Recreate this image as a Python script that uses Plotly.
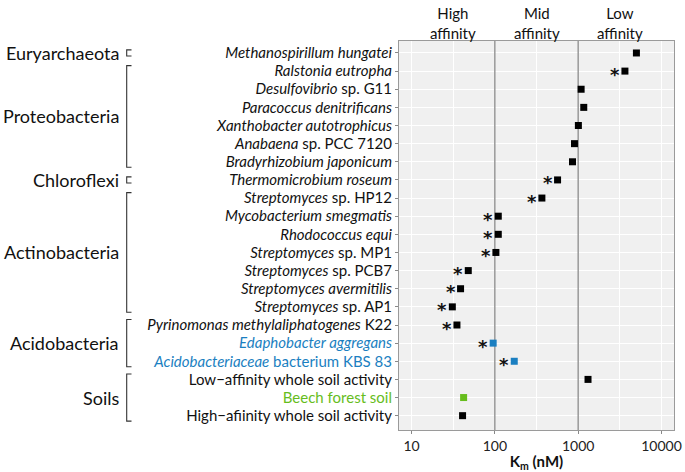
import math
import plotly.graph_objects as go

# ---------------- data ----------------
organisms = [
    "<i>Methanospirillum hungatei</i>",
    "<i>Ralstonia eutropha</i>",
    "<i>Desulfovibrio</i> sp. G11",
    "<i>Paracoccus denitrificans</i>",
    "<i>Xanthobacter autotrophicus</i>",
    "<i>Anabaena</i> sp. PCC 7120",
    "<i>Bradyrhizobium japonicum</i>",
    "<i>Thermomicrobium roseum</i>",
    "<i>Streptomyces</i> sp. HP12",
    "<i>Mycobacterium smegmatis</i>",
    "<i>Rhodococcus equi</i>",
    "<i>Streptomyces</i> sp. MP1",
    "<i>Streptomyces</i> sp. PCB7",
    "<i>Streptomyces avermitilis</i>",
    "<i>Streptomyces</i> sp. AP1",
    "<i>Pyrinomonas methylaliphatogenes</i> K22",
    "<i>Edaphobacter aggregans</i>",
    "<i>Acidobacteriaceae</i> bacterium KBS 83",
    "Low\u2212affinity whole soil activity",
    "Beech forest soil",
    "High\u2212afiinity whole soil activity",
]
km_nM = [5000, 3640, 1085, 1167, 1006, 903, 855, 566, 367, 110, 110, 103,
         48, 38.8, 30.9, 35.1, 95.5, 171, 1313, 42.2, 41]
starred = [False, True, False, False, False, False, False, True, True, True, True, True,
           True, True, True, True, True, True, False, False, False]
kind = ["ref"] * 16 + ["new", "new", "ref", "beech", "ref"]

groups = ["Euryarchaeota", "Proteobacteria", "Chloroflexi", "Actinobacteria",
          "Acidobacteria", "Soils"]
group_first = [0, 1, 7, 8, 15, 18]
group_last = [0, 6, 7, 14, 17, 20]

affinity_labels = ["High<br>affinity", "Mid<br>affinity", "Low<br>affinity"]
affinity_centers = [10 ** 1.5, 10 ** 2.5, 10 ** 3.5]
thresholds = [100, 1000]
x_ticks = [10, 100, 1000, 10000]
x_minor = [10 ** 1.5, 10 ** 2.5, 10 ** 3.5]

# ---------------- style ----------------
colors = {"ref": "#000000", "new": "#1b7fc1", "beech": "#66bd1c"}
FONT = "Lato"
W, H = 685, 472
ML, MR, MT, MB = 399, 11, 41, 42
Y_TOP, Y_BOT = -0.66, 20.79
rows = list(range(len(organisms)))

def tick_text(lbl, k):
    if k == "ref":
        return lbl
    return '<span style="color:%s">%s</span>' % (colors[k], lbl)

fig = go.Figure()

# threshold lines
for t in thresholds:
    fig.add_trace(go.Scatter(x=[t, t], y=[Y_TOP, Y_BOT], mode="lines",
                             line=dict(color="#8a8a8a", width=1.3),
                             hoverinfo="skip", showlegend=False))

for k in ["ref", "new", "beech"]:
    idx = [i for i in rows if kind[i] == k]
    fig.add_trace(go.Scatter(
        x=[km_nM[i] for i in idx], y=[rows[i] for i in idx], mode="markers",
        marker=dict(symbol="square", size=7, color=colors[k], line=dict(width=0)),
        showlegend=False))

# stars
for i in rows:
    if starred[i]:
        fig.add_annotation(x=math.log10(km_nM[i]), y=rows[i], xref="x", yref="y",
                           text="<b>*</b>", showarrow=False, xanchor="center", yanchor="middle",
                           xshift=-10, yshift=-3,
                           font=dict(family="DejaVu Sans", size=18, color="#111111"))

# affinity headers
for lab, c in zip(affinity_labels, affinity_centers):
    fig.add_annotation(x=math.log10(c), y=1.047, xref="x", yref="paper", text=lab,
                       showarrow=False, xanchor="center", yanchor="middle",
                       font=dict(family=FONT, size=15, color="#111111"))

# group brackets and labels
plot_w = W - ML - MR
plot_h = H - MT - MB

def py(r):
    return (Y_BOT - r) / (Y_BOT - Y_TOP)

def px(pix):
    return (pix - ML) / plot_w

for g, a, b in zip(groups, group_first, group_last):
    pad = 0.17 if a == b else 0.3
    y0, y1 = py(a - pad), py(b + pad)
    xv, xt = px(126.7), px(131.5)
    path = "M %f %f L %f %f L %f %f L %f %f" % (xt, y0, xv, y0, xv, y1, xt, y1)
    fig.add_shape(type="path", path=path, xref="paper", yref="paper",
                  line=dict(color="#333333", width=1.1))
    fig.add_annotation(x=px(121), y=py((a + b) / 2), xref="paper", yref="paper",
                       text=g, showarrow=False, xanchor="right", yanchor="middle",
                       font=dict(family=FONT, size=18, color="#111111"))

fig.update_layout(
    width=W, height=H,
    margin=dict(l=ML, r=MR, t=MT, b=MB, pad=0, autoexpand=False),
    paper_bgcolor="white", plot_bgcolor="#f0f0f0",
    font=dict(family=FONT, color="#111111"),
)
fig.update_xaxes(
    type="log", range=[0.85, 4.15], automargin=False,
    tickmode="array", tickvals=x_ticks, ticktext=[str(v) for v in x_ticks],
    ticks="outside", ticklen=3, tickcolor="#888888",
    tickfont=dict(family=FONT, size=14, color="#222222"),
    showgrid=True, gridcolor="white", gridwidth=1.1,
    minor=dict(tickmode="array", tickvals=x_minor, showgrid=True,
               gridcolor="white", gridwidth=0.6, ticks=""),
    showline=True, linecolor="#9a9a9a", linewidth=1, mirror=True,
    zeroline=False,
    title=dict(text="<b>K<sub>m</sub> (nM)</b>", font=dict(family=FONT, size=15, color="#111111"),
               standoff=4),
)
fig.update_yaxes(
    range=[Y_BOT, Y_TOP], automargin=False,
    tickmode="array", tickvals=rows,
    ticktext=[tick_text(l, k) for l, k in zip(organisms, kind)],
    ticks="outside", ticklen=3, tickcolor="#888888",
    tickfont=dict(family=FONT, size=15, color="#111111"),
    showgrid=True, gridcolor="white", gridwidth=1.1,
    showline=True, linecolor="#9a9a9a", linewidth=1, mirror=True,
    zeroline=False,
)

fig.write_html("out.html", config={"displayModeBar": False},
               post_script="document.body.style.margin='0';")
